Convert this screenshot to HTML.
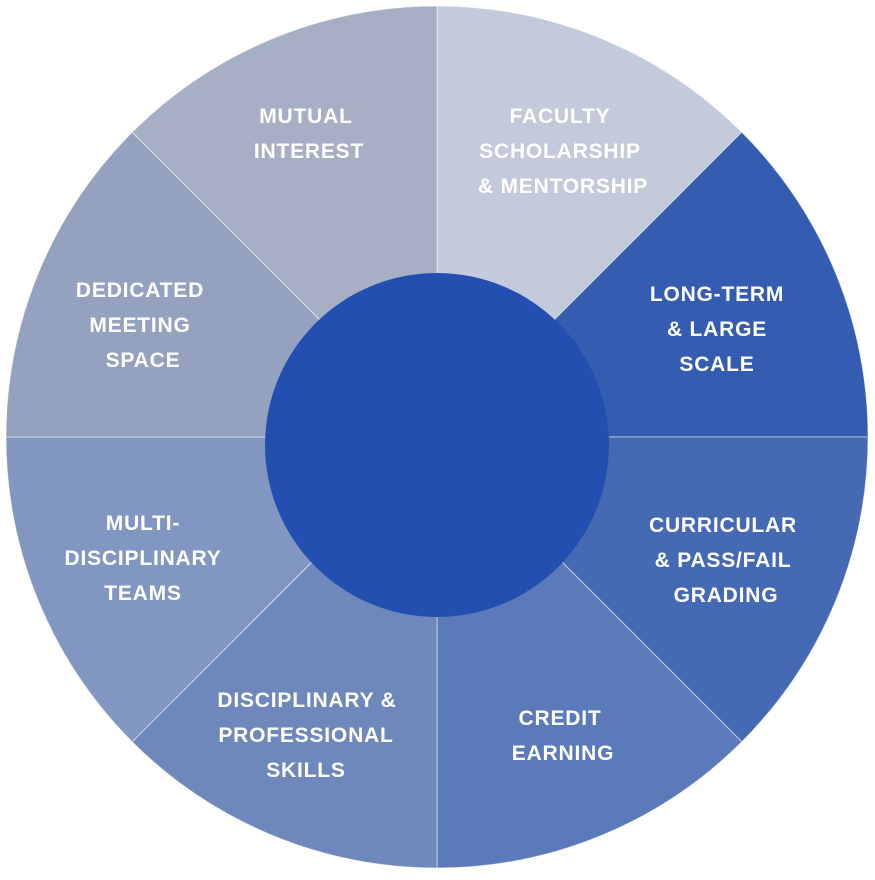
<!DOCTYPE html>
<html><head><style>
body{margin:0;background:#fff;width:875px;height:875px;overflow:hidden}
text{font-family:"Liberation Sans",sans-serif;font-weight:bold;font-size:21px;letter-spacing:0.8px;fill:#fff;text-anchor:middle}
</style></head><body>
<svg width="875" height="875" viewBox="0 0 875 875">
<g stroke="#fff" stroke-width="1" stroke-opacity="0.5">
<path d="M437,437 L437,6 A431,431 0 0 1 741.8,132.2 Z" fill="#c3cadb"/>
<path d="M437,437 L741.8,132.2 A431,431 0 0 1 868,437 Z" fill="#345cb0"/>
<path d="M437,437 L868,437 A431,431 0 0 1 741.8,741.8 Z" fill="#4669b3"/>
<path d="M437,437 L741.8,741.8 A431,431 0 0 1 437,868 Z" fill="#5b7aba"/>
<path d="M437,437 L437,868 A431,431 0 0 1 132.2,741.8 Z" fill="#6e88bb"/>
<path d="M437,437 L132.2,741.8 A431,431 0 0 1 6,437 Z" fill="#8196c0"/>
<path d="M437,437 L6,437 A431,431 0 0 1 132.2,132.2 Z" fill="#94a2c0"/>
<path d="M437,437 L132.2,132.2 A431,431 0 0 1 437,6 Z" fill="#a6afc4"/>
</g>
<circle cx="437" cy="445" r="172" fill="#2350b0"/>
<text x="306" y="123">MUTUAL</text><text x="309" y="158">INTEREST</text>
<text x="560" y="123">FACULTY</text><text x="560" y="158">SCHOLARSHIP</text><text x="563" y="193">&amp; MENTORSHIP</text>
<text x="717" y="301">LONG-TERM</text><text x="717" y="336">&amp; LARGE</text><text x="717" y="371">SCALE</text>
<text x="140" y="297">DEDICATED</text><text x="140" y="332">MEETING</text><text x="143" y="367">SPACE</text>
<text x="143" y="530">MULTI-</text><text x="143" y="565">DISCIPLINARY</text><text x="143" y="600">TEAMS</text>
<text x="723" y="532">CURRICULAR</text><text x="723" y="567">&amp; PASS/FAIL</text><text x="726" y="602">GRADING</text>
<text x="307" y="707">DISCIPLINARY &amp;</text><text x="306" y="742">PROFESSIONAL</text><text x="306" y="777">SKILLS</text>
<text x="560" y="725">CREDIT</text><text x="563" y="760">EARNING</text>
</svg>
</body></html>
